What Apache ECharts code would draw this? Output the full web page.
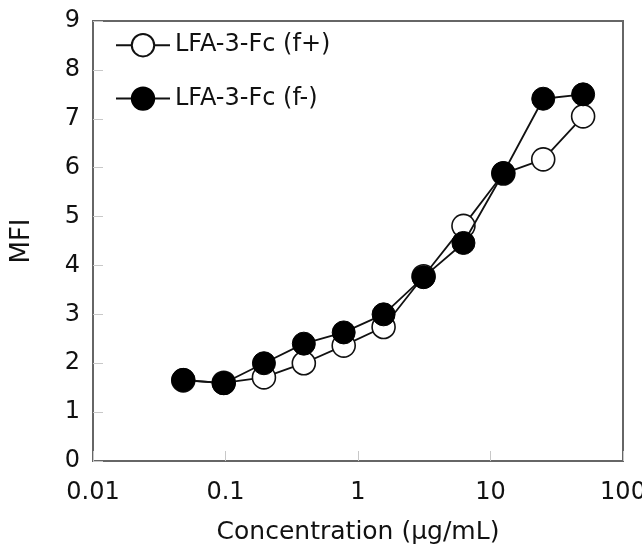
<!DOCTYPE html>
<html lang="en">
<head>
    <meta charset="UTF-8">
    <title>MFI vs Concentration</title>
    <script src="https://cdn.jsdelivr.net/npm/echarts@6/dist/echarts.min.js"></script>
    <style>
        html, body { margin: 0; padding: 0; background: #fff; }
        #chart { width: 642px; height: 548px; }
    </style>
</head>
<body>
    <div id="chart"></div>

    <script>
        // data
        var concentrations = [0.048, 0.097, 0.195, 0.39, 0.78, 1.56, 3.125, 6.25, 12.5, 25, 50];
        var fPlus  = [1.65, 1.60, 1.71, 2.00, 2.36, 2.74, 3.78, 4.81, 5.88, 6.17, 7.05];
        var fMinus = [1.66, 1.59, 2.00, 2.40, 2.63, 3.00, 3.76, 4.46, 5.89, 7.41, 7.50];
        var seriesNames = ['LFA-3-Fc (f+)', 'LFA-3-Fc (f-)'];
        var xTickLabels = ['0.01', '0.1', '1', '10', '100'];
        var yTickLabels = ['0', '1', '2', '3', '4', '5', '6', '7', '8', '9'];

        var font = 'DejaVu Sans';

        function pairs(ys) {
            return concentrations.map(function (c, i) { return [c, ys[i]]; });
        }

        var chart = echarts.init(document.getElementById('chart'));

        var option = {
            animation: false,
            backgroundColor: '#fff',
            textStyle: { fontFamily: font, color: '#111' },
            grid: {
                left: 93, right: 19, top: 21, bottom: 87,
                outerBoundsMode: 'none',
                containLabel: false,
                show: true,
                borderColor: '#666',
                borderWidth: 2
            },
            legend: {
                orient: 'vertical',
                left: 115,
                top: 33,
                padding: 0,
                itemWidth: 54,
                itemHeight: 28,
                itemGap: 29,
                textStyle: { fontFamily: font, fontSize: 24, color: '#111' },
                data: seriesNames
            },
            xAxis: {
                type: 'log',
                logBase: 10,
                min: 0.01,
                max: 100,
                name: 'Concentration (μg/mL)',
                nameLocation: 'middle',
                nameGap: 59,
                nameTextStyle: { fontFamily: font, fontSize: 25, color: '#111' },
                axisLine: { lineStyle: { color: '#666', width: 2 } },
                axisTick: { inside: true, length: 10, lineStyle: { color: '#c8c8c8', width: 1 } },
                minorTick: { show: false },
                splitLine: { show: false },
                axisLabel: {
                    margin: 20,
                    fontFamily: font,
                    fontSize: 24,
                    color: '#111',
                    formatter: function (v) {
                        return xTickLabels[Math.round(Math.log10(v)) + 2];
                    }
                }
            },
            yAxis: {
                type: 'value',
                min: 0,
                max: 9,
                interval: 1,
                name: 'MFI',
                nameLocation: 'middle',
                nameGap: 58,
                nameTextStyle: { fontFamily: font, fontSize: 26, color: '#111' },
                axisLine: { show: true, lineStyle: { color: '#666', width: 2 } },
                axisTick: { show: true, inside: true, length: 10, lineStyle: { color: '#c8c8c8', width: 1 } },
                splitLine: { show: false },
                axisLabel: {
                    margin: 13,
                    fontFamily: font,
                    fontSize: 24,
                    color: '#111',
                    formatter: function (v) { return yTickLabels[Math.round(v)]; }
                }
            },
            series: [
                {
                    name: seriesNames[0],
                    type: 'line',
                    data: pairs(fPlus),
                    symbol: 'circle',
                    symbolSize: 23,
                    lineStyle: { color: '#111', width: 1.8 },
                    itemStyle: { color: '#fff', borderColor: '#111', borderWidth: 1.6 },
                    z: 2
                },
                {
                    name: seriesNames[1],
                    type: 'line',
                    data: pairs(fMinus),
                    symbol: 'circle',
                    symbolSize: 23,
                    lineStyle: { color: '#111', width: 1.8 },
                    itemStyle: { color: '#000', borderColor: '#000', borderWidth: 1 },
                    z: 3
                }
            ]
        };

        chart.setOption(option);
    </script>
</body>
</html>
